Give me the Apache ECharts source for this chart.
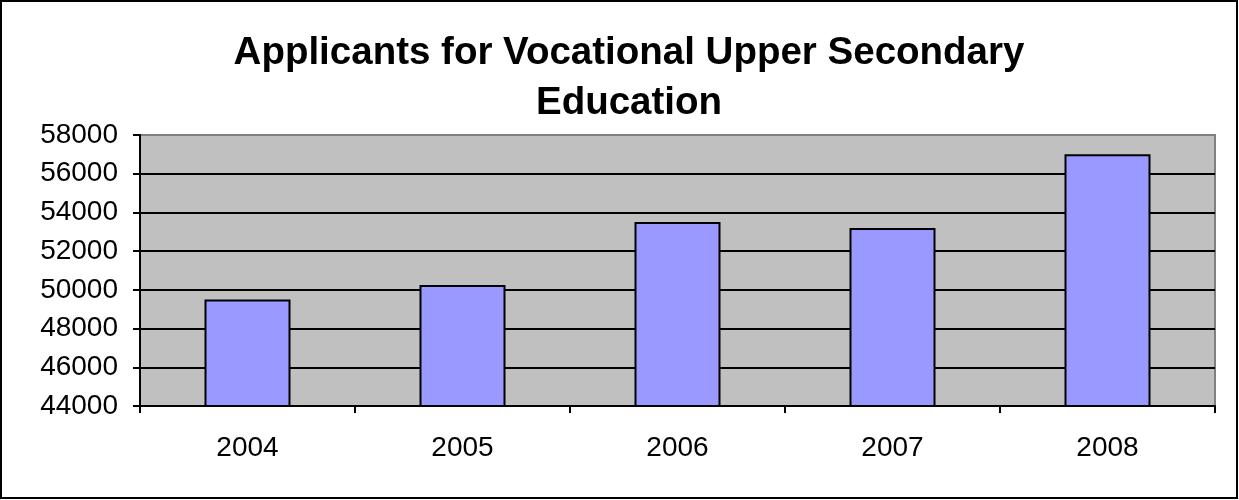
<!DOCTYPE html>
<html>
<head>
<meta charset="utf-8">
<title>Applicants for Vocational Upper Secondary Education</title>
<script src="https://cdn.jsdelivr.net/npm/echarts@6/dist/echarts.min.js"></script>
<style>
  html, body { margin: 0; padding: 0; background: #fff; }
  #chart { width: 1239px; height: 500px; }
</style>
</head>
<body>
<div id="chart"></div>
<script>
const years = ['2004', '2005', '2006', '2007', '2008']
const applicants = [49500, 50250, 53500, 53200, 57000]
const yMin = 44000
const yMax = 58000
const yStep = 2000

const chart = echarts.init(document.getElementById('chart'))

// top split line is the plot border in the original, so it stays grey
const splitColors = ['#000', '#000', '#000', '#000', '#000', '#000', '#000', '#808080']

chart.setOption({
  animation: false,
  textStyle: { fontFamily: 'Liberation Sans, Arial, sans-serif' },
  graphic: [
    {
      type: 'text',
      x: 629,
      y: 28,
      style: {
        text: 'Applicants for Vocational Upper Secondary\nEducation',
        align: 'center',
        verticalAlign: 'top',
        font: 'bold 38.5px "Liberation Sans", Arial, sans-serif',
        fill: '#000',
        lineHeight: 50,
      },
    },
    {
      type: 'rect',
      shape: { x: 1, y: 1, width: 1236, height: 497 },
      style: { fill: 'none', stroke: '#000', lineWidth: 2 },
      z: 100,
    },
  ],
  grid: {
    left: 140,
    right: 24,
    top: 135,
    bottom: 94,
    show: true,
    backgroundColor: '#c0c0c0',
    borderColor: '#808080',
    borderWidth: 2,
  },
  xAxis: {
    type: 'category',
    data: years,
    boundaryGap: true,
    axisLine: { lineStyle: { color: '#000', width: 2 } },
    axisTick: { show: true, length: 7, lineStyle: { color: '#000', width: 2 } },
    axisLabel: { color: '#000', fontSize: 28, margin: 28 },
  },
  yAxis: {
    type: 'value',
    min: yMin,
    max: yMax,
    interval: yStep,
    axisLine: { show: true, lineStyle: { color: '#000', width: 2 } },
    axisTick: { show: true, length: 7, lineStyle: { color: '#000', width: 2 } },
    axisLabel: { color: '#000', fontSize: 28, margin: 22, formatter: (v) => String(v) },
    splitLine: { lineStyle: { color: splitColors, width: 2 } },
  },
  series: [
    {
      name: 'Applicants',
      type: 'bar',
      data: applicants,
      barWidth: 86,
      itemStyle: {
        color: '#9999ff',
        borderColor: '#000',
        borderWidth: 2,
      },
    },
  ],
})
</script>
</body>
</html>
